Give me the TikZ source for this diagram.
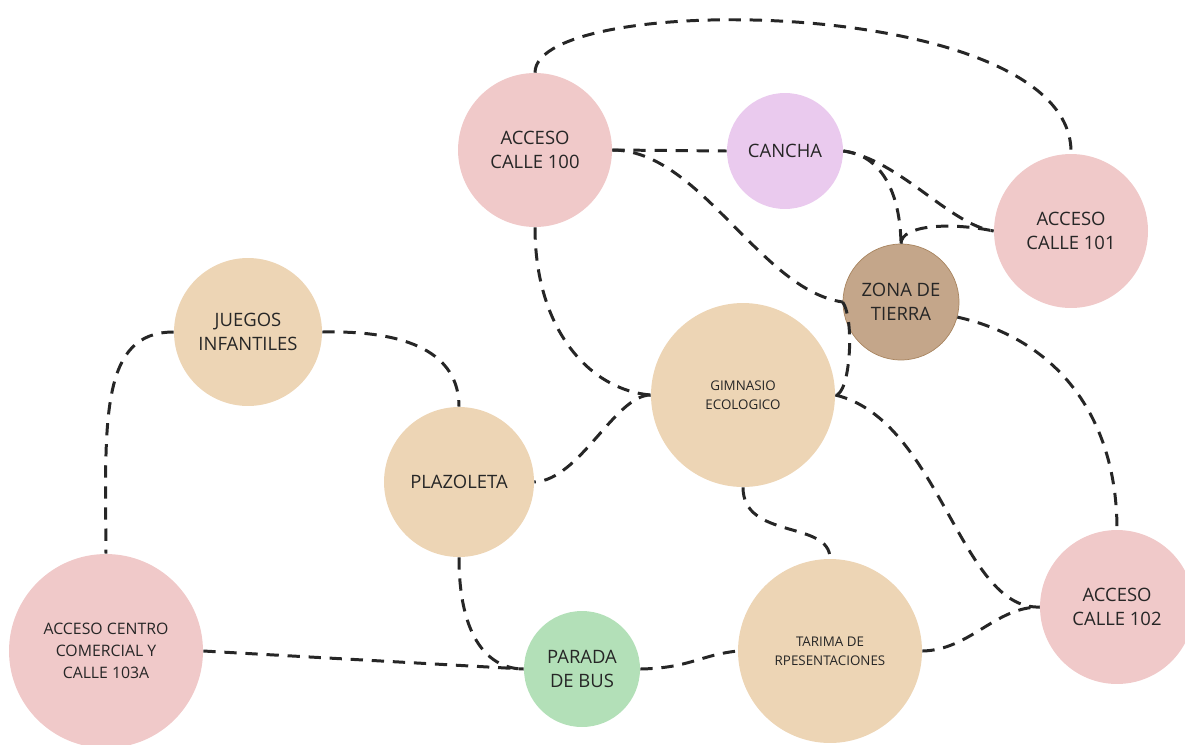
\documentclass[tikz,border=0pt]{standalone}
\usepackage{fontspec}
\setmainfont{Open Sans}
\usepackage{xcolor}
\usepackage{tikz}
\usetikzlibrary{
  arrows.meta,
  positioning,
  calc
}
\definecolor{rosa}{HTML}{F0C9C9}
\definecolor{lila}{HTML}{EACAEE}
\definecolor{tierra}{HTML}{C4A68A}
\definecolor{tierrab}{HTML}{A8845F}
\definecolor{beige}{HTML}{EDD5B5}
\definecolor{verde}{HTML}{B3E0B8}
\definecolor{linea}{HTML}{262626}
\tikzset{
  zona/.style={circle, inner sep=0pt, align=center, text=black!85},
  grande/.style={font=\fontsize{10.5}{13.5}\selectfont},
  chica/.style={font=\fontsize{7.6}{11}\selectfont},
  ruta/.style={draw=linea, line width=1.7pt, dash pattern=on 7pt off 5pt}
}

\begin{document}
\begin{tikzpicture}[x=0.02cm, y=-0.02cm]
    \useasboundingbox (0,0) rectangle (1185,744);

    % Accesos (rosa)
    \node[zona, grande, fill=rosa, minimum size=3.08cm] (acc100) at (535,150) {ACCESO\\CALLE 100};
    \node[zona, grande, fill=rosa, minimum size=3.08cm] (acc101) at (1071,231) {ACCESO\\CALLE 101};
    \node[zona, grande, fill=rosa, minimum size=3.08cm] (acc102) at (1117,607) {ACCESO\\CALLE 102};
    \node[zona, fill=rosa, minimum size=3.88cm, font=\fontsize{9}{12.4}\selectfont] (acccc) at (106,651) {ACCESO CENTRO\\COMERCIAL Y\\CALLE 103A};

    % Cancha y zona de tierra
    \node[zona, grande, fill=lila, minimum size=2.32cm] (cancha) at (785,151) {CANCHA};
    \node[zona, grande, fill=tierra, draw=tierrab, thin, minimum size=2.32cm] (ztierra) at (901,302) {ZONA DE\\TIERRA};

    % Espacios (beige)
    \node[zona, grande, fill=beige, minimum size=2.96cm] (juegos) at (248,332) {JUEGOS\\INFANTILES};
    \node[zona, chica, fill=beige, minimum size=3.68cm] (gimnasio) at (743,395) {GIMNASIO\\ECOLOGICO};
    \node[zona, grande, fill=beige, minimum size=3.0cm] (plazoleta) at (459,482) {PLAZOLETA};
    \node[zona, chica, fill=beige, minimum size=3.68cm] (tarima) at (830,651) {TARIMA DE\\RPESENTACIONES};

    % Parada
    \node[zona, grande, fill=verde, minimum size=2.32cm] (parada) at (582,669) {PARADA\\DE BUS};

    % Recorridos
    \draw[ruta] (acc100.north) .. controls (535,-10) and (1075,-5) .. (acc101.north);
    \draw[ruta] (acc100.east) -- (cancha.west);
    \draw[ruta] (acc100.east) .. controls (700,150) and (760,290) .. (ztierra.west);
    \draw[ruta] (acc100.south) .. controls (535,330) and (590,390) .. (gimnasio.west);
    \draw[ruta] (cancha.east) .. controls (900,160) and (950,225) .. (acc101.west);
    \draw[ruta] (cancha.east) .. controls (880,155) and (900,190) .. (ztierra.north);
    \draw[ruta] (ztierra.north) .. controls (901,225) and (950,222) .. (acc101.west);
    \draw[ruta] (ztierra.west) .. controls (855,320) and (850,395) .. (gimnasio.east);
    \draw[ruta] (ztierra.-15) .. controls (1060,340) and (1117,420) .. (acc102.north);
    \draw[ruta] (gimnasio.east) .. controls (940,420) and (960,610) .. (acc102.west);
    \draw[ruta] (gimnasio.west) .. controls (615,395) and (580,480) .. (plazoleta.east);
    \draw[ruta] (gimnasio.south) .. controls (743,540) and (830,520) .. (tarima.north);
    \draw[ruta] (juegos.east) .. controls (420,330) and (459,360) .. (plazoleta.north);
    \draw[ruta] (juegos.west) .. controls (100,332) and (105,420) .. (acccc.north);
    \draw[ruta] (plazoleta.south) .. controls (459,640) and (490,669) .. (parada.west);
    \draw[ruta] (acccc.east) -- (parada.west);
    \draw[ruta] (parada.east) .. controls (690,668) and (700,655) .. (tarima.west);
    \draw[ruta] (tarima.east) .. controls (970,650) and (995,607) .. (acc102.west);
\end{tikzpicture}
\end{document}
